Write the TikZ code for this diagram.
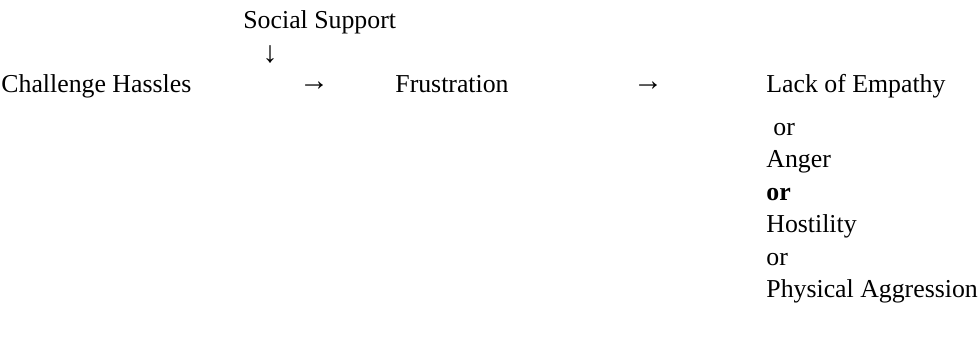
\documentclass[tikz,border=0pt]{standalone}
\usepackage{fontspec}
\setmainfont{Liberation Serif}
\begin{document}
\begin{tikzpicture}[x=0.5pt,y=-0.5pt,
  txt/.style={anchor=base west,inner sep=0pt,font=\fontsize{12.9}{16}\selectfont},
  arr/.style={anchor=center,inner sep=0pt,font=\fontsize{15}{18}\selectfont}]
\useasboundingbox (0,0) rectangle (979,350);
\node[txt] (ss) at (243,28) {Social Support};
\node[arr] (down) at (270,55) {↓};
\node[txt] (ch) at (1,92) {Challenge Hassles};
\node[arr] (a1) at (314,86) {→};
\node[txt] (fr) at (395,92) {Frustration};
\node[arr] (a2) at (648,86) {→};
\node[txt] (le) at (766,92) {Lack of Empathy};
\node[txt] (or1) at (773,135) {or};
\node[txt] (an) at (766,167) {Anger};
\node[txt,font=\fontsize{12.9}{16}\selectfont\bfseries] (or2) at (766,200) {or};
\node[txt] (ho) at (766,232) {Hostility};
\node[txt] (or3) at (766,265) {or};
\node[txt] (pa) at (766,297) {Physical Aggression};
\end{tikzpicture}
\end{document}
